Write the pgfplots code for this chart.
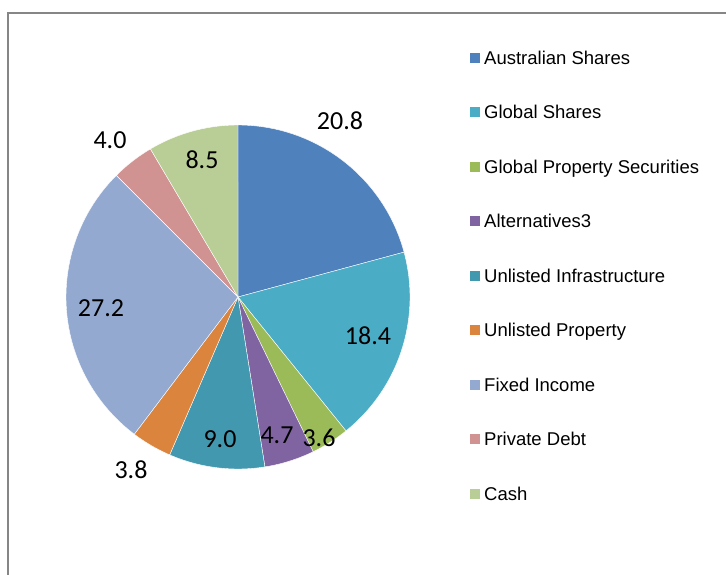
\documentclass[border=0pt]{standalone}
\usepackage{fontspec}
\setmainfont{Liberation Sans}
\newfontfamily\calibri{Carlito}
\usepackage{pgfplots}
\pgfplotsset{compat=1.18}
\definecolor{cA}{HTML}{4F81BD}
\definecolor{cB}{HTML}{4BACC6}
\definecolor{cC}{HTML}{9BBB59}
\definecolor{cD}{HTML}{8064A2}
\definecolor{cE}{HTML}{4198AF}
\definecolor{cF}{HTML}{DB843D}
\definecolor{cG}{HTML}{93A9CF}
\definecolor{cH}{HTML}{D19392}
\definecolor{cI}{HTML}{B9CD96}
\definecolor{frame}{RGB}{134,134,134}
% values (percent), clockwise from 12 o'clock
\def\vA{20.8}\def\vB{18.4}\def\vC{3.6}\def\vD{4.7}\def\vE{9.0}
\def\vF{3.8}\def\vG{27.2}\def\vH{4.0}\def\vI{8.5}
% pie centre and radius (axis units = px)
\def\cx{238}\def\cy{277}\def\rr{172}
\newcommand\slice[3]{%
  \addplot[fill=#3, draw=white, line width=0.4pt, domain=3.6*(#1):3.6*(#2), samples=80, variable=\t]
    ({\cx+\rr*sin(\t)},{\cy+\rr*cos(\t)}) -- (axis cs:\cx,\cy) -- cycle;}
\begin{document}
\begin{tikzpicture}
\begin{axis}[
  at={(0pt,0pt)}, anchor=south west,
  scale only axis, width=726pt, height=574pt,
  xmin=0, xmax=726, ymin=0, ymax=574,
  hide axis, clip=false,
  legend image code/.code={\fill[#1, draw=none] (0pt,-5pt) rectangle (10pt,5pt);},
  legend cell align=left,
  legend style={at={(axis cs:470,523.3)}, anchor=north west, draw=none, fill=none,
    inner sep=0pt, row sep=41.3pt, column sep=4pt,
    font=\fontsize{18.5}{20}\selectfont,
    nodes={inner sep=0pt, anchor=west, text height=13.2pt, text depth=0pt}},
]
\slice{0}{\vA}{cA}
\addlegendentry{Australian Shares}
\slice{\vA}{\vA+\vB}{cB}
\addlegendentry{Global Shares}
\slice{\vA+\vB}{\vA+\vB+\vC}{cC}
\addlegendentry{Global Property Securities}
\slice{\vA+\vB+\vC}{\vA+\vB+\vC+\vD}{cD}
\addlegendentry{Alternatives3}
\slice{\vA+\vB+\vC+\vD}{\vA+\vB+\vC+\vD+\vE}{cE}
\addlegendentry{Unlisted Infrastructure}
\slice{\vA+\vB+\vC+\vD+\vE}{\vA+\vB+\vC+\vD+\vE+\vF}{cF}
\addlegendentry{Unlisted Property}
\slice{\vA+\vB+\vC+\vD+\vE+\vF}{\vA+\vB+\vC+\vD+\vE+\vF+\vG}{cG}
\addlegendentry{Fixed Income}
\slice{\vA+\vB+\vC+\vD+\vE+\vF+\vG}{\vA+\vB+\vC+\vD+\vE+\vF+\vG+\vH}{cH}
\addlegendentry{Private Debt}
\slice{\vA+\vB+\vC+\vD+\vE+\vF+\vG+\vH}{100}{cI}
\addlegendentry{Cash}
% data labels
\begin{scope}[every node/.style={font=\calibri\fontsize{26}{28}\selectfont, inner sep=0pt}]
\node at (axis cs:340,453) {20.8};
\node at (axis cs:368,238) {18.4};
\node at (axis cs:319,136) {3.6};
\node at (axis cs:277,139) {4.7};
\node at (axis cs:220,135) {9.0};
\node at (axis cs:131,104) {3.8};
\node at (axis cs:101,266) {27.2};
\node at (axis cs:110,434) {4.0};
\node at (axis cs:202,414) {8.5};
\end{scope}
% chart frame
\draw[frame, line width=1.6pt] (axis cs:8,-5) -- (axis cs:8,561) -- (axis cs:735,561);
\end{axis}
\pgfresetboundingbox
\path[use as bounding box] (0pt,0pt) rectangle (726pt,574pt);
\end{tikzpicture}
\end{document}
